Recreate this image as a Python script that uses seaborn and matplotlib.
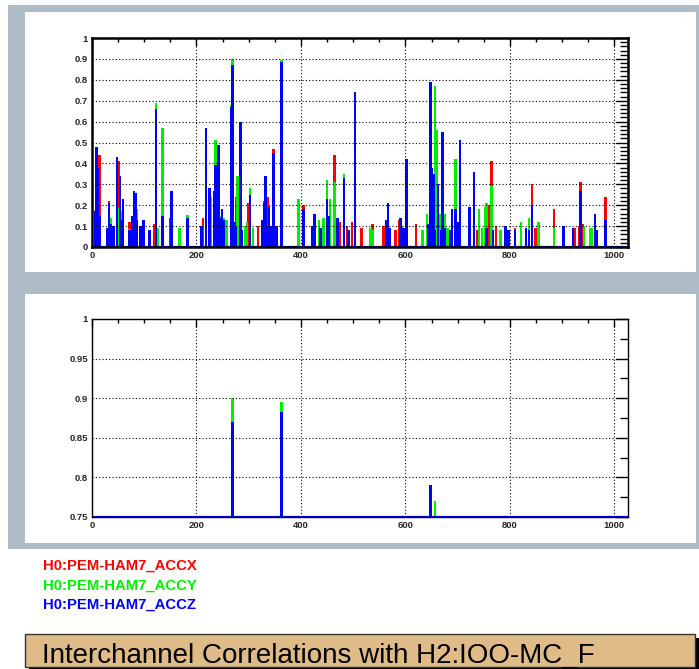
import numpy as np
import pandas as pd
import seaborn as sns
import matplotlib
matplotlib.use("Agg")
import matplotlib.pyplot as plt
from matplotlib.patches import Rectangle
from matplotlib.ticker import MultipleLocator, FuncFormatter

# spikes: channel position and correlation
x_accx = [13, 30, 40, 47, 49, 69, 117, 147, 210, 275, 278, 299, 315, 327, 334, 337, 345,
          402, 424, 463, 471, 487, 497, 501, 513, 536, 555, 580, 585, 589, 619, 649, 671,
          722, 736, 757, 764, 772, 808, 840, 848, 883, 923, 931, 934, 937, 982]
v_accx = [0.44, 0.22, 0.09, 0.25, 0.41, 0.12, 0.11, 0.14, 0.14, 0.24, 0.09, 0.21, 0.10, 0.22,
          0.24, 0.20, 0.47, 0.20, 0.15, 0.44, 0.12, 0.10, 0.12, 0.62, 0.09, 0.11, 0.10, 0.08,
          0.13, 0.14, 0.11, 0.38, 0.54, 0.19, 0.08, 0.20, 0.41, 0.10, 0.09, 0.30, 0.09, 0.18,
          0.09, 0.10, 0.31, 0.11, 0.24]

x_accy = [10, 34, 50, 54, 70, 85, 120, 124, 134, 167, 180, 227, 231, 234, 237, 243, 246,
          250, 255, 264, 267, 277, 293, 296, 302, 308, 338, 360, 394, 433, 442, 448, 455,
          464, 480, 532, 534, 593, 601, 631, 641, 654, 659, 662, 665, 674, 680, 693, 739,
          744, 750, 753, 764, 780, 797, 819, 836, 852, 882, 941, 953, 956]
v_accy = [0.13, 0.14, 0.19, 0.17, 0.085, 0.18, 0.69, 0.09, 0.57, 0.09, 0.155, 0.24, 0.14,
          0.51, 0.44, 0.15, 0.13, 0.14, 0.13, 0.68, 0.90, 0.34, 0.10, 0.12, 0.28, 0.09, 0.10,
          0.895, 0.23, 0.13, 0.14, 0.32, 0.23, 0.31, 0.35, 0.09, 0.08, 0.10, 0.09, 0.08, 0.16,
          0.77, 0.56, 0.15, 0.16, 0.16, 0.09, 0.42, 0.18, 0.09, 0.19, 0.21, 0.29, 0.08, 0.07,
          0.12, 0.14, 0.12, 0.09, 0.10, 0.09, 0.09]

x_accz = [5, 8, 10, 14, 27, 30, 34, 37, 40, 46, 51, 54, 59, 69, 72, 76, 78, 82, 84, 90, 97,
          110, 120, 134, 150, 180, 208, 218, 224, 231, 234, 240, 243, 246, 250, 264, 267, 271,
          275, 282, 285, 302, 326, 329, 332, 334, 337, 340, 345, 352, 360, 402, 420, 423, 435,
          448, 452, 469, 480, 490, 501, 563, 566, 569, 590, 594, 600, 643, 646, 649, 652, 656,
          660, 668, 671, 674, 685, 689, 693, 700, 704, 722, 731, 755, 766, 791, 797, 808, 829,
          836, 840, 901, 920, 934, 960, 964, 982]
v_accz = [0.17, 0.48, 0.38, 0.15, 0.09, 0.21, 0.11, 0.10, 0.10, 0.43, 0.34, 0.13, 0.23, 0.08,
          0.08, 0.15, 0.27, 0.26, 0.13, 0.10, 0.13, 0.08, 0.66, 0.15, 0.27, 0.14, 0.10, 0.57,
          0.28, 0.27, 0.39, 0.49, 0.14, 0.18, 0.13, 0.67, 0.87, 0.12, 0.10, 0.60, 0.08, 0.25,
          0.13, 0.21, 0.34, 0.10, 0.19, 0.10, 0.45, 0.10, 0.883, 0.18, 0.10, 0.16, 0.09, 0.23,
          0.15, 0.14, 0.33, 0.08, 0.74, 0.13, 0.21, 0.09, 0.14, 0.09, 0.42, 0.11, 0.79, 0.38,
          0.35, 0.08, 0.30, 0.08, 0.55, 0.09, 0.08, 0.18, 0.18, 0.12, 0.51, 0.19, 0.36, 0.09,
          0.08, 0.10, 0.08, 0.08, 0.09, 0.08, 0.20, 0.10, 0.09, 0.27, 0.16, 0.08, 0.13]

channels = ["H0:PEM-HAM7_ACCX", "H0:PEM-HAM7_ACCY", "H0:PEM-HAM7_ACCZ"]
title = "Interchannel Correlations with H2:IOO-MC_F"

colors = ["#ff0000", "#00ee00", "#0000ff"]
gray = "#adbcc6"

sns.set_style("white")
plt.rcParams['font.family'] = ['Liberation Sans', 'DejaVu Sans']

W, H = 699, 669
fig = plt.figure(figsize=(W / 100, H / 100), dpi=100)


def box(x0, y0, x1, y1, **kw):
    # pixel box (top-left origin) -> figure rectangle
    r = Rectangle((x0 / W, 1 - y1 / H), (x1 - x0) / W, (y1 - y0) / H,
                  transform=fig.transFigure, **kw)
    fig.patches.append(r)


box(8, 5, 699, 549, facecolor=gray, edgecolor="none", zorder=-10)
box(25, 12, 696, 272, facecolor="white", edgecolor="none", zorder=-9)
box(25, 294, 696, 543, facecolor="white", edgecolor="none", zorder=-9)


def make_axes(y0, y1):
    return fig.add_axes([92 / W, 1 - y1 / H, 536 / W, (y1 - y0) / H])


ax1 = make_axes(38, 247)
ax2 = make_axes(319, 517)

frames = [pd.DataFrame({"pos": xs, "val": vs})
          for xs, vs in [(x_accx, v_accx), (x_accy, v_accy), (x_accz, v_accz)]]

for ax, ylo, ymaj, ymin, frame_w in [(ax1, 0.0, 0.1, 0.02, 1.8), (ax2, 0.75, 0.05, 0.025, 1.0)]:
    for df, c in zip(frames, colors):
        sns.histplot(data=df, x="pos", weights="val", binwidth=3, binrange=(0, 1029),
                     color=c, alpha=1, linewidth=0.7, edgecolor=c, antialiased=False, ax=ax)
    ax.axhline(ylo, color="#0000ff", linewidth=1.6, zorder=5)
    ax.set_xlim(0, 1026)
    ax.set_ylim(ylo, 1)
    ax.set_xlabel("")
    ax.set_ylabel("")
    ax.xaxis.set_major_locator(MultipleLocator(200))
    ax.xaxis.set_minor_locator(MultipleLocator(50))
    ax.yaxis.set_major_locator(MultipleLocator(ymaj))
    ax.yaxis.set_minor_locator(MultipleLocator(ymin))
    ax.yaxis.set_major_formatter(FuncFormatter(lambda v, p: "%g" % round(v, 3)))
    ax.grid(True, which="major", color="black", linestyle=(0, (1, 2)), linewidth=0.8)
    ax.set_axisbelow(False)
    ax.tick_params(which="both", direction="in", top=True, right=True, width=1,
                   labelsize=6.8, color="black", pad=3)
    ax.tick_params(axis="x", which="major", length=6)
    ax.tick_params(axis="x", which="minor", length=3)
    ax.tick_params(axis="y", which="major", length=9)
    ax.tick_params(axis="y", which="minor", length=6)
    for lab in ax.get_xticklabels() + ax.get_yticklabels():
        lab.set_fontweight("bold")
    for s in ax.spines.values():
        s.set_color("black")
        s.set_linewidth(frame_w)
        s.set_zorder(6)

# channel legend
for name, c, yb in zip(channels, colors, [569.5, 589.3, 608.7]):
    fig.text(43 / W, 1 - yb / H, name, color=c, fontsize=10.7,
             fontweight="bold", va="baseline", ha="left")

# title box with shadow
box(29, 638, 700, 672, facecolor="black", edgecolor="none", zorder=1)
box(25, 634, 695, 667, facecolor="#dfbb87", edgecolor="#333333", linewidth=1, zorder=2)
fig.text(42 / W, 1 - 663 / H, title, fontsize=20, color="black", va="baseline",
         ha="left", zorder=3)

fig.savefig("out.png", dpi=100)
